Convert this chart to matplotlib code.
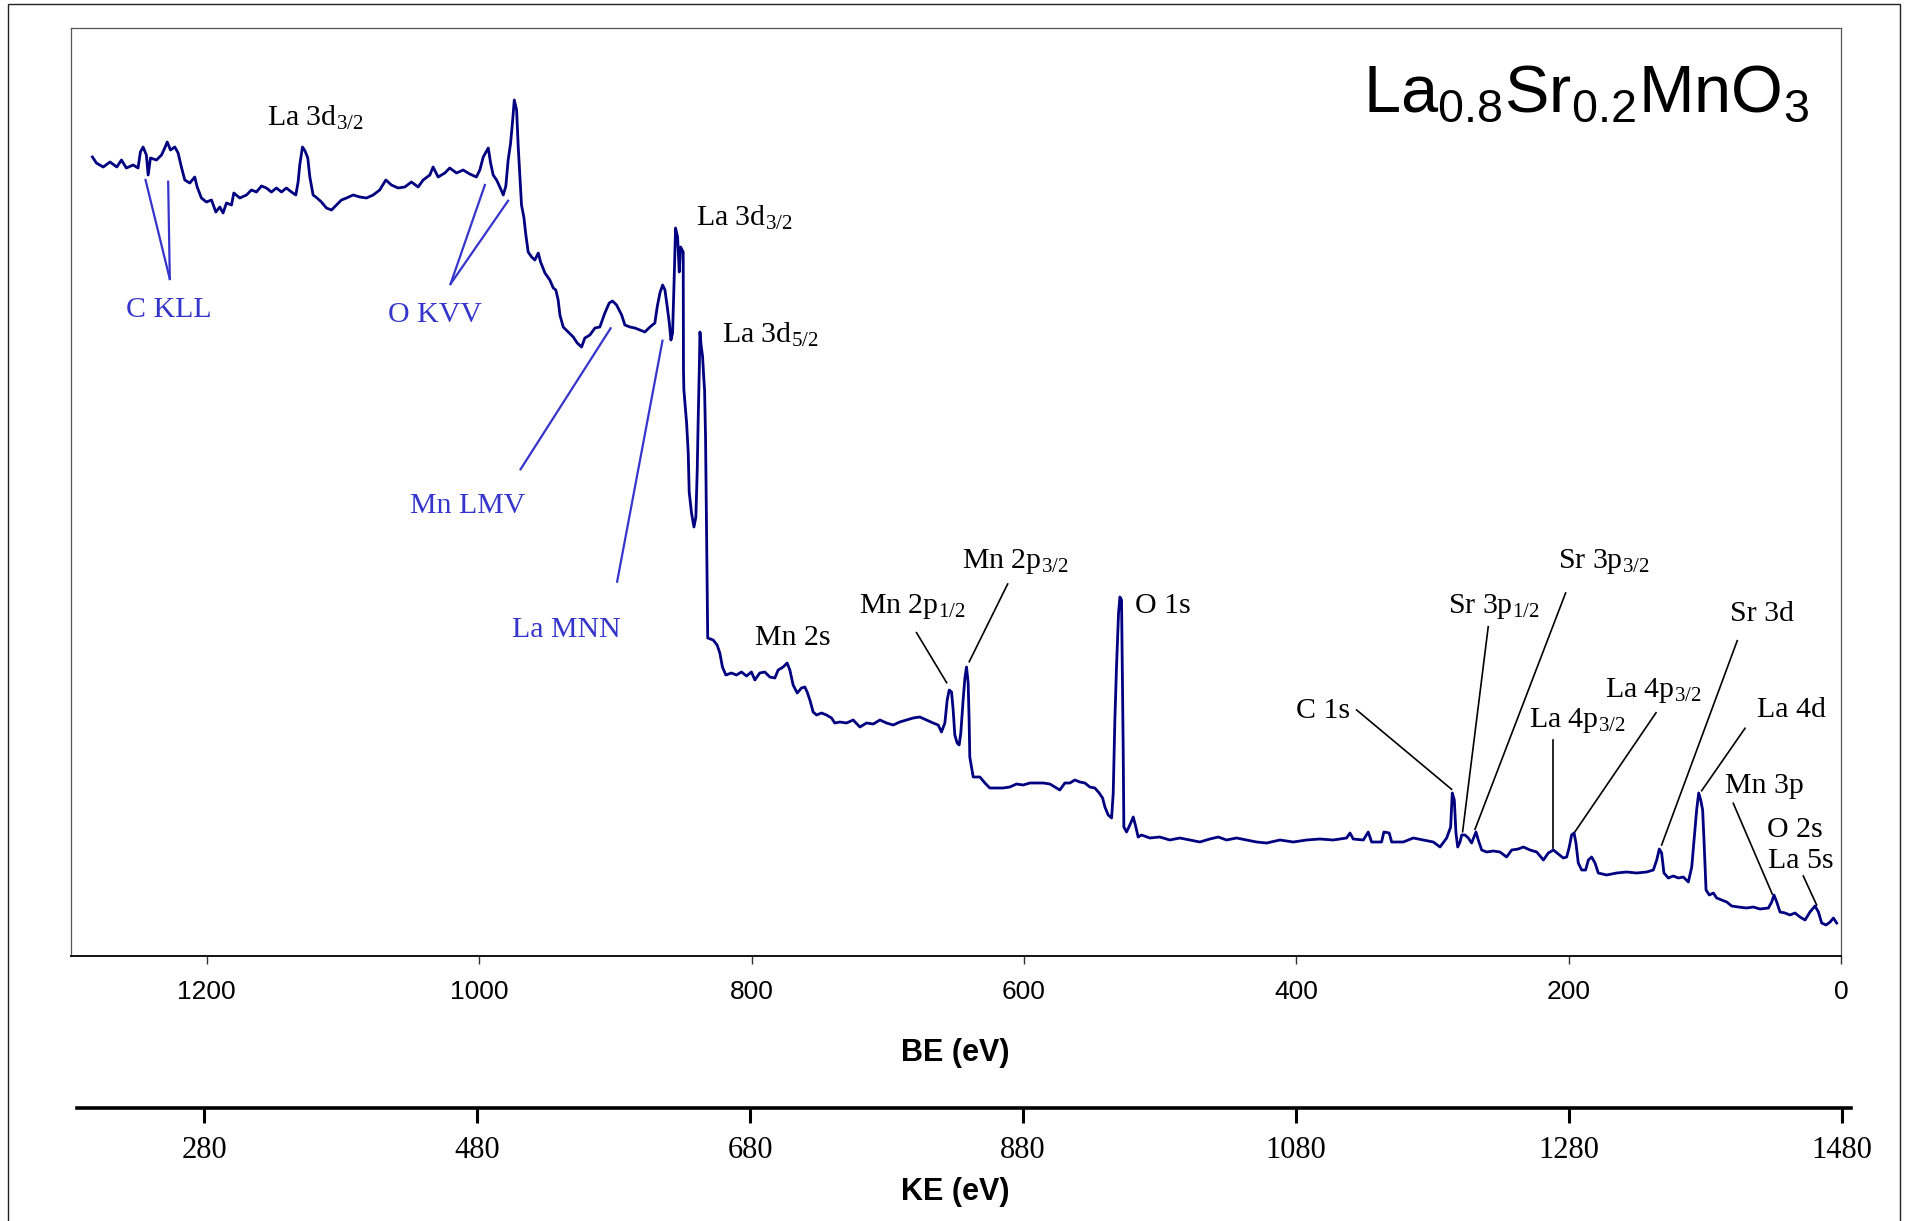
import matplotlib
matplotlib.use("Agg")
import matplotlib.pyplot as plt
from matplotlib.patches import Rectangle

plt.rcParams['mathtext.default'] = 'regular'

# XPS survey of La0.8Sr0.2MnO3 : binding energy (eV) vs counts (a.u.)
be = [1283.9, 1281.0, 1276.0, 1271.0, 1266.0, 1262.6, 1259.0, 1254.0, 1250.4, 1248.7,
      1246.7, 1244.3, 1243.0, 1241.3, 1236.9, 1233.2, 1230.8, 1229.0, 1226.6, 1223.4,
      1221.0, 1218.6, 1216.1, 1212.4, 1208.8, 1207.0, 1203.9, 1200.2, 1196.5, 1193.3,
      1190.4, 1188.0, 1185.5, 1181.8, 1180.1, 1175.7, 1170.8, 1167.2, 1163.5, 1159.8,
      1156.2, 1152.5, 1148.8, 1145.1, 1141.5, 1137.8, 1134.6, 1132.9, 1131.7, 1129.7,
      1127.8, 1125.8, 1124.3, 1121.9, 1119.0, 1115.8, 1112.1, 1108.4, 1104.8, 1101.1,
      1097.4, 1092.5, 1087.6, 1082.7, 1077.8, 1073.0, 1068.5, 1064.4, 1059.5, 1054.6,
      1049.7, 1044.8, 1041.1, 1036.2, 1033.8, 1030.1, 1025.2, 1021.6, 1016.6, 1011.8,
      1006.9, 1002.0, 999.5, 997.0, 993.3, 991.6, 989.7, 987.2, 984.8, 982.3,
      980.4, 978.7, 976.9, 975.5, 974.2, 972.5, 971.3, 970.1, 968.9, 967.2,
      965.7, 964.0, 961.5, 959.1, 956.6, 954.9, 951.7, 948.1, 945.6, 943.7,
      942.0, 940.7, 938.3, 934.6, 930.9, 928.0, 924.8, 922.4, 918.7, 915.0,
      911.4, 907.7, 904.5, 902.1, 899.1, 895.4, 893.0, 889.3, 885.7, 882.0,
      878.3, 874.6, 871.0, 869.3, 867.3, 865.3, 863.6, 861.9, 860.4, 859.2,
      858.0, 857.0, 855.8, 854.3, 853.1, 852.1, 850.2, 850.0, 849.7, 847.7,
      846.5, 845.8, 844.1, 842.3, 840.9, 839.9, 839.2, 838.4, 837.9, 837.0,
      836.0, 835.0, 834.5, 833.8, 833.3, 832.8, 832.2, 828.2, 825.3, 823.3,
      821.4, 818.9, 814.8, 811.1, 807.4, 803.7, 800.1, 797.6, 794.0, 790.3,
      786.6, 782.9, 780.5, 776.8, 773.9, 771.9, 769.5, 766.5, 763.4, 760.9,
      759.2, 757.2, 754.8, 752.3, 748.7, 745.0, 741.3, 738.9, 735.2, 730.3,
      725.4, 720.5, 715.6, 710.7, 705.8, 700.9, 696.1, 691.2, 686.3, 681.4,
      676.5, 671.6, 666.7, 663.0, 660.6, 658.1, 656.4, 654.9, 653.2, 652.0,
      650.8, 649.1, 647.6, 646.4, 644.7, 643.4, 642.2, 641.0, 640.3, 639.8,
      637.3, 632.4, 628.7, 625.1, 620.2, 615.3, 610.4, 605.5, 600.6, 595.7,
      590.8, 585.9, 581.0, 577.4, 573.7, 570.0, 566.3, 562.7, 559.0, 555.3,
      551.7, 548.0, 544.8, 542.3, 540.6, 538.2, 535.7, 534.5, 533.3, 532.1,
      530.6, 529.6, 528.4, 527.9, 527.2, 526.7, 524.7, 522.3, 519.8, 517.9,
      516.2, 513.7, 507.6, 500.3, 493.0, 485.6, 478.2, 470.9, 463.6, 457.4,
      451.3, 444.0, 436.6, 429.3, 421.9, 412.1, 402.3, 392.5, 382.8, 373.0,
      363.2, 360.7, 358.3, 350.9, 347.3, 344.8, 337.5, 335.8, 331.9, 330.1,
      321.6, 314.2, 306.9, 299.5, 294.6, 289.7, 286.8, 285.6, 284.1, 282.9,
      281.6, 279.9, 278.7, 276.3, 273.8, 271.4, 269.7, 268.2, 266.5, 264.0,
      260.4, 255.5, 250.6, 245.7, 242.0, 237.1, 233.4, 228.5, 223.6, 218.7,
      215.1, 211.4, 207.7, 204.1, 201.6, 199.7, 198.0, 196.2, 194.8, 193.1,
      190.6, 187.7, 185.7, 183.3, 180.8, 178.4, 172.3, 164.9, 157.6, 150.2,
      142.9, 138.0, 135.5, 133.6, 131.9, 130.2, 127.0, 123.3, 119.6, 116.0,
      112.3, 109.8, 108.1, 106.2, 104.7, 103.2, 101.8, 100.8, 99.3, 96.9,
      93.9, 91.5, 87.8, 84.1, 80.5, 75.6, 69.5, 64.6, 59.7, 53.5,
      51.1, 49.4, 47.4, 45.0, 41.3, 37.7, 34.0, 30.3, 26.6, 23.0,
      19.3, 16.8, 14.4, 11.2, 8.2, 5.8, 3.4]

counts = [799, 793, 789, 794, 789, 796, 788, 791, 788, 804,
          809, 801, 781, 798, 796, 801, 808, 814, 806, 809,
          803, 789, 776, 773, 779, 769, 758, 754, 756, 744,
          749, 743, 753, 751, 763, 758, 761, 766, 764, 770,
          768, 764, 768, 764, 768, 764, 761, 774, 791, 809,
          805, 798, 779, 761, 758, 754, 748, 746, 751, 756,
          758, 761, 759, 758, 761, 766, 776, 771, 768, 769,
          774, 769, 776, 781, 789, 779, 783, 788, 783, 786,
          782, 779, 786, 799, 808, 793, 781, 776, 769, 761,
          770, 796, 813, 834, 856, 846, 809, 779, 751, 739,
          721, 704, 699, 696, 703, 694, 683, 676, 668, 666,
          656, 641, 629, 624, 619, 613, 609, 618, 621, 628,
          629, 643, 653, 655, 651, 641, 631, 629, 628, 626,
          624, 629, 633, 649, 663, 671, 666, 649, 633, 616,
          623, 669, 728, 719, 684, 709, 704, 586, 566, 533,
          503, 464, 443, 429, 439, 486, 536, 586, 624, 610,
          600, 576, 566, 519, 453, 386, 318, 316, 311, 303,
          289, 281, 283, 281, 284, 280, 284, 276, 283, 284,
          279, 278, 286, 289, 293, 286, 271, 263, 268, 269,
          264, 256, 244, 241, 243, 241, 238, 233, 234, 233,
          236, 229, 233, 232, 236, 233, 231, 234, 236, 238,
          239, 236, 233, 231, 224, 233, 256, 266, 264, 246,
          221, 213, 211, 223, 256, 278, 289, 273, 236, 199,
          179, 179, 173, 168, 168, 168, 169, 172, 171, 173,
          173, 173, 172, 169, 166, 173, 173, 176, 174, 173,
          169, 168, 163, 158, 149, 141, 138, 163, 236, 289,
          343, 359, 356, 296, 209, 129, 124, 131, 139, 129,
          119, 121, 118, 119, 116, 118, 116, 114, 117, 119,
          116, 118, 116, 114, 113, 116, 114, 116, 117, 116,
          118, 123, 117, 116, 124, 114, 114, 124, 123, 114,
          114, 118, 116, 114, 109, 118, 129, 163, 156, 123,
          109, 114, 121, 121, 118, 113, 119, 124, 116, 106,
          104, 105, 104, 99, 106, 107, 109, 106, 104, 96,
          103, 106, 102, 98, 99, 109, 121, 123, 113, 93,
          86, 86, 96, 99, 93, 83, 81, 83, 84, 83,
          84, 86, 96, 107, 103, 83, 78, 80, 78, 79,
          74, 89, 116, 146, 163, 156, 146, 116, 66, 61,
          63, 58, 56, 54, 50, 49, 48, 49, 47, 48,
          54, 61, 54, 44, 43, 41, 43, 39, 36, 44,
          50, 44, 33, 31, 34, 38, 33]

be_ticks = [1200, 1000, 800, 600, 400, 200, 0]
ke_ticks = [280, 480, 680, 880, 1080, 1280, 1480]
hv = 1486.6  # Al K-alpha, KE = hv - BE

NAVY = '#000080'
AUGER = '#3535cc'
SERIF = 'Liberation Serif'
SANS = 'Liberation Sans'

# photoelectron peaks: label, text anchor (BE, counts), leader line
peaks = [
    ('La 3d$_{3/2}$', (1156.1, 830), None),
    ('La 3d$_{3/2}$', (840.9, 730.3), None),
    ('La 3d$_{5/2}$', (822.0, 612.7), None),
    ('Mn 2s', (797.6, 311), None),
    ('Mn 2p$_{1/2}$', (721.0, 343.3), [(678.9, 323.3), (656.8, 273.3)]),
    ('Mn 2p$_{3/2}$', (645.6, 388), [(612.0, 372), (640.2, 294.3)]),
    ('O 1s', (518.6, 343.3), None),
    ('C 1s', (400.6, 237.7), [(355.8, 246), (286.1, 166.7)]),
    ('Sr 3p$_{1/2}$', (288.9, 343.3), [(259.2, 329.3), (278.0, 124.3)]),
    ('Sr 3p$_{3/2}$', (208.3, 388), [(202.4, 363), (268.9, 126.7)]),
    ('La 4p$_{3/2}$', (229.1, 229.3), [(211.4, 216), (211.4, 107.7)]),
    ('La 4p$_{3/2}$', (173.5, 259.3), [(136.0, 243.3), (195.5, 124.3)]),
    ('Sr 3d', (81.7, 335.3), [(76.4, 315.3), (131.9, 111)]),
    ('La 4d', (62.1, 238.7), [(70.7, 227.7), (102.5, 165.3)]),
    ('Mn 3p', (85.4, 162.7), [(79.3, 152.7), (50.7, 62)]),
    ('O 2s', (54.8, 118.7), None),
    ('La 5s', (53.6, 87.7), [(27.9, 80), (18.1, 51)]),
]

# Auger features, drawn in blue
auger = [
    ('C KLL', (1259.4, 638.7), [[(1244.9, 776), (1227.1, 677)], [(1228.3, 774.3), (1227.1, 677)]]),
    ('O KVV', (1066.8, 634.3), [[(995.8, 771), (1021.0, 672)], [(978.7, 755.3), (1021.0, 672)]]),
    ('Mn LMV', (1051.0, 443), [[(903.5, 627.7), (969.6, 486.7)]]),
    ('La MNN', (976.2, 318.7), [[(865.4, 615.3), (898.7, 374.3)]]),
]

W, H = 1907, 1221
fig = plt.figure(figsize=(W / 100, H / 100), dpi=100)

# thin frame round the whole figure
fig.patches.append(Rectangle((8 / W, -0.01), 1892 / W, 1.01 - 4 / H,
                             transform=fig.transFigure, fill=False,
                             edgecolor='#222222', lw=1.0))

ax = fig.add_axes([70.5 / W, 1 - 956 / H, 1770.8 / W, 928 / H])
ax.plot(be, counts, color=NAVY, lw=2.0, zorder=3)
ax.set_xlim(1300, 0)
ax.set_ylim(0, 928)
ax.set_yticks([])
ax.set_xticks(be_ticks)
ax.set_xticklabels([str(t) for t in be_ticks], fontfamily=SANS, fontsize=19)
ax.tick_params(axis='x', direction='out', length=5.5, width=1.0, pad=12, color='#333333')
for side in ['left', 'top', 'right']:
    ax.spines[side].set_color('#555555')
    ax.spines[side].set_linewidth(0.9)
ax.spines['bottom'].set_color('black')
ax.spines['bottom'].set_linewidth(1.3)

for label, (tx, ty), leader in peaks:
    ax.text(tx, ty, label, fontfamily=SERIF, fontsize=21.5, color='black',
            ha='left', va='baseline')
    if leader:
        ax.plot([leader[0][0], leader[1][0]], [leader[0][1], leader[1][1]],
                color='black', lw=1.2, clip_on=False)

for label, (tx, ty), leaders in auger:
    ax.text(tx, ty, label, fontfamily=SERIF, fontsize=21.5, color=AUGER,
            ha='left', va='baseline')
    for (x0, y0), (x1, y1) in leaders:
        ax.plot([x0, x1], [y0, y1], color=AUGER, lw=1.6)

ax.text(24, 844, r'$La_{0.8}Sr_{0.2}MnO_3$', ha='right', va='baseline',
        fontsize=48, fontfamily=SANS)

fig.text(955 / W, 1 - 1053 / H, 'BE (eV)', ha='center', va='center',
         fontsize=22, fontweight='bold', fontfamily=SANS)

# kinetic energy scale underneath
ax2 = fig.add_axes([76.6 / W, 1 - 1108 / H, 1774.4 / W, 0.001])
ax2.set_facecolor('none')
for side in ['left', 'top', 'right']:
    ax2.spines[side].set_visible(False)
ax2.spines['bottom'].set_linewidth(2.6)
ax2.set_xlim(hv - 1300, hv)
ax2.set_yticks([])
ax2.set_xticks(ke_ticks)
ax2.set_xticklabels([str(t) for t in ke_ticks], fontfamily=SERIF, fontsize=22)
ax2.tick_params(axis='x', direction='out', length=11, width=2.2, pad=9)

fig.text(955 / W, 1 - 1192 / H, 'KE (eV)', ha='center', va='center',
         fontsize=22, fontweight='bold', fontfamily=SANS)

fig.savefig('out.png', dpi=100)
